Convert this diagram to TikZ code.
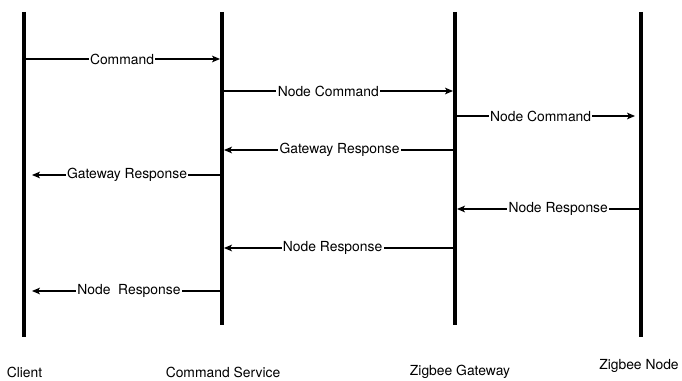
\documentclass[tikz,border=0pt]{standalone}
\usepackage{fontspec}
\setmainfont{TeX Gyre Heros}
\usetikzlibrary{arrows.meta}

\tikzset{
  lifeline/.style={line width=3pt},
  msg/.style={line width=0.8pt,-{Stealth[length=6pt,width=5pt,inset=1.5pt]}},
  msglabel/.style={fill=white,inner xsep=1pt,inner ysep=1pt,font=\fontsize{10.4}{12}\selectfont},
  actor/.style={font=\fontsize{10.4}{12}\selectfont,inner sep=0pt}
}

\begin{document}
\begin{tikzpicture}[x=0.75pt,y=-0.75pt]
\useasboundingbox (0,0) rectangle (682,381);

% lifelines
\foreach \name/\x/\bot in {client/24/337,cmd/222/325,gw/455/325,zn/641/337}{
  \coordinate (\name-top) at (\x,12);
  \coordinate (\name-bot) at (\x,\bot);
  \draw[lifeline] (\name-top)--(\name-bot);
}

\node[actor] (client) at (24.5,372) {Client};
\node[actor] (cmd) at (223,372) {Command Service};
\node[actor] (gw) at (460,372) {Zigbee Gateway};
\node[actor] (zn) at (639,366) {Zigbee Node};

% message end points
\coordinate (m1s) at (24,59);   \coordinate (m1e) at (220,59);
\coordinate (m2s) at (222,91);  \coordinate (m2e) at (453,91);
\coordinate (m3s) at (457,116); \coordinate (m3e) at (635,116);
\coordinate (m4s) at (455,150); \coordinate (m4e) at (224,150);
\coordinate (m5s) at (222,175); \coordinate (m5e) at (32,175);
\coordinate (m6s) at (641,209); \coordinate (m6e) at (457,209);
\coordinate (m7s) at (455,248); \coordinate (m7e) at (224,248);
\coordinate (m8s) at (222,291); \coordinate (m8e) at (32,291);

\draw[msg] (m1s)--node[msglabel,pos=0.5]{Command}(m1e);
\draw[msg] (m2s)--node[msglabel,pos=0.46]{Node Command}(m2e);
\draw[msg] (m3s)--node[msglabel,pos=0.47]{Node Command}(m3e);
\draw[msg] (m4s)--node[msglabel,pos=0.5]{Gateway Response}(m4e);
\draw[msg] (m5s)--node[msglabel,pos=0.5]{Gateway Response}(m5e);
\draw[msg] (m6s)--node[msglabel,pos=0.45]{Node Response}(m6e);
\draw[msg] (m7s)--node[msglabel,pos=0.53]{Node Response}(m7e);
\draw[msg] (m8s)--node[msglabel,pos=0.49]{Node~~Response}(m8e);

\end{tikzpicture}
\end{document}
